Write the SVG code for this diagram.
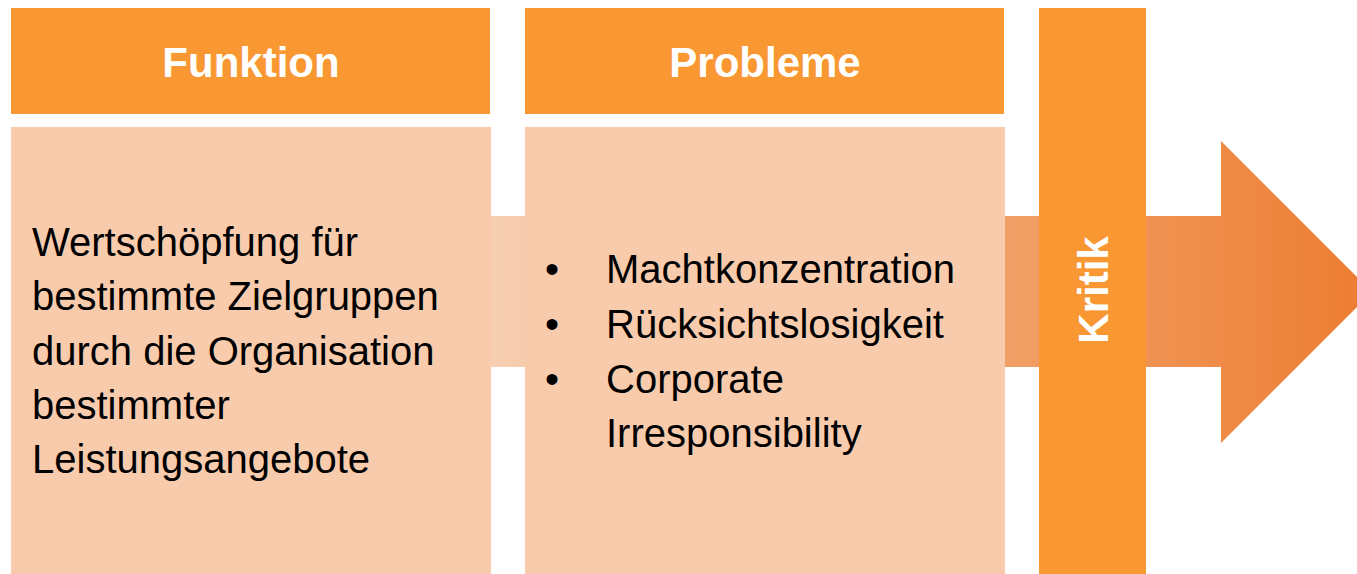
<svg xmlns="http://www.w3.org/2000/svg" width="1357" height="574" viewBox="0 0 1357 574">
  <style>
    .head { fill: #F99733; }
    .body { fill: #F8CBAD; }
    .htxt { font-family: "Liberation Sans", Arial, sans-serif; font-weight: bold; font-size: 42px; fill: #FFFFFF; text-anchor: middle; }
    .btxt { font-family: "Liberation Sans", Arial, sans-serif; font-size: 40px; fill: #000000; }
  </style>
  <defs>
    <linearGradient id="flow" gradientUnits="userSpaceOnUse" x1="491" y1="0" x2="1372" y2="0">
      <stop offset="0" stop-color="#F7CFB2"/>
      <stop offset="1" stop-color="#ED7D31"/>
    </linearGradient>
  </defs>
  <rect width="1357" height="574" fill="#FFFFFF"/>

  <g id="connectors">
    <!-- broad block arrow running behind the columns -->
    <path d="M491,216 H1221 V141 L1372,292 L1221,443 V367 H491 Z" fill="url(#flow)"/>
  </g>

  <g id="funktion">
    <rect class="head" x="11" y="8" width="479" height="106"/>
    <text class="htxt" x="251" y="77">Funktion</text>
    <rect class="body" x="11" y="127" width="480" height="447"/>
    <text class="btxt">
      <tspan x="32" y="256">Wertschöpfung für</tspan>
      <tspan x="32" y="310">bestimmte Zielgruppen</tspan>
      <tspan x="32" y="365">durch die Organisation</tspan>
      <tspan x="32" y="419">bestimmter</tspan>
      <tspan x="32" y="473">Leistungsangebote</tspan>
    </text>
  </g>

  <g id="probleme">
    <rect class="head" x="525" y="8" width="479" height="106"/>
    <text class="htxt" x="765" y="77">Probleme</text>
    <rect class="body" x="525" y="127" width="480" height="447"/>
    <text class="btxt">
      <tspan x="545" y="283">•</tspan>
      <tspan x="606" y="283">Machtkonzentration</tspan>
      <tspan x="545" y="338">•</tspan>
      <tspan x="606" y="338">Rücksichtslosigkeit</tspan>
      <tspan x="545" y="393">•</tspan>
      <tspan x="606" y="393">Corporate</tspan>
      <tspan x="606" y="447">Irresponsibility</tspan>
    </text>
  </g>

  <g id="kritik">
    <rect class="head" x="1039" y="8" width="107" height="566"/>
    <text class="htxt" transform="translate(1108,290) rotate(-90)">Kritik</text>
  </g>
</svg>
